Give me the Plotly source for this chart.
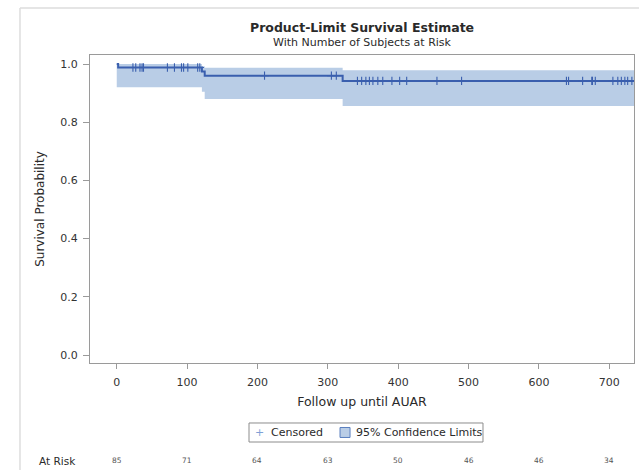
import plotly.graph_objects as go

# Kaplan-Meier step data
event_times = [0, 2, 121, 125, 321, 735]
survival = [1.0, 0.988, 0.974, 0.960, 0.942, 0.942]
ci_lower = [0.92, 0.92, 0.905, 0.88, 0.856, 0.856]
ci_upper = [1.0, 1.0, 0.992, 0.987, 0.979, 0.979]

# Censored observation times and their survival values
censor_times = [23, 27, 33, 36, 38, 72, 82, 92, 95, 101, 115, 118,
                210, 305, 312,
                342, 348, 354, 359, 364, 371, 378, 391, 402, 412, 455, 490,
                639, 642, 662, 675, 676, 680, 705, 712, 717, 722, 726, 732]
censor_surv = [0.988] * 12 + [0.960] * 3 + [0.942] * 24

# At-risk table
risk_times = [0, 100, 200, 300, 400, 500, 600, 700]
at_risk = [85, 71, 64, 63, 50, 46, 46, 34]

LINE = "#3a5fae"
FILL = "#b9cde6"
FONT = "DejaVu Sans, Verdana, sans-serif"
TXT = "#2a2a2a"

fig = go.Figure()

fig.add_trace(go.Scatter(
    x=event_times, y=ci_lower, mode="lines", line=dict(width=0, shape="hv"),
    showlegend=False, hoverinfo="skip"))
fig.add_trace(go.Scatter(
    x=event_times, y=ci_upper, mode="lines", line=dict(width=0, shape="hv"),
    fill="tonexty", fillcolor=FILL, showlegend=False, hoverinfo="skip"))
fig.add_trace(go.Scatter(
    x=event_times, y=survival, mode="lines",
    line=dict(color=LINE, width=2, shape="hv"), showlegend=False))
fig.add_trace(go.Scatter(
    x=censor_times, y=censor_surv, mode="markers", showlegend=False,
    marker=dict(symbol="cross-thin-open", size=6, color=LINE,
                line=dict(color=LINE, width=1.1))))

# Legend drawn manually (box, symbols, text)
LEG_Y = -0.2256
fig.add_shape(type="rect", xref="paper", yref="paper", x0=0.2923, x1=0.7224,
              y0=-0.2565, y1=-0.1948, line=dict(color="#8c8c8c", width=1),
              fillcolor="white")
fig.add_annotation(x=0.3116, y=LEG_Y, xref="paper", yref="paper", text="+",
                   showarrow=False, xanchor="center", yanchor="middle",
                   font=dict(size=11, color="#7f9fd6", family=FONT))
fig.add_annotation(x=0.329, y=LEG_Y, xref="paper", yref="paper", text="Censored",
                   showarrow=False, xanchor="left", yanchor="middle",
                   font=dict(size=11, color=TXT, family=FONT))
fig.add_shape(type="rect", xref="paper", yref="paper", x0=0.4596, x1=0.478,
              y0=LEG_Y - 0.0162, y1=LEG_Y + 0.0162,
              line=dict(color="#5a7fbf", width=1), fillcolor=FILL)
fig.add_annotation(x=0.4862, y=LEG_Y, xref="paper", yref="paper",
                   text="95% Confidence Limits", showarrow=False,
                   xanchor="left", yanchor="middle",
                   font=dict(size=11, color=TXT, family=FONT))

# At-risk annotations
for t, n in zip(risk_times, at_risk):
    fig.add_annotation(x=t, y=-0.318, xref="x", yref="paper", text=str(n),
                       showarrow=False, yanchor="middle",
                       font=dict(size=7.5, color="#555555", family=FONT))
fig.add_annotation(x=-0.06, y=-0.318, xref="paper", yref="paper", text="At Risk",
                   showarrow=False, xanchor="center", yanchor="middle",
                   font=dict(size=10.5, color=TXT, family=FONT))

fig.add_annotation(x=0.5, y=1.0909, xref="paper", yref="paper", yanchor="middle",
                   text="<b>Product-Limit Survival Estimate</b>", showarrow=False,
                   font=dict(size=12.5, color=TXT, family=FONT))
fig.add_annotation(x=0.5, y=1.039, xref="paper", yref="paper", yanchor="middle",
                   text="With Number of Subjects at Risk", showarrow=False,
                   font=dict(size=11, color=TXT, family=FONT))

# faint outer frame lines
fig.add_shape(type="line", xref="paper", yref="paper", x0=-0.1287, x1=1.02,
              y0=1.1526, y1=1.1526, line=dict(color="#dddddd", width=1.5))
fig.add_shape(type="line", xref="paper", yref="paper", x0=-0.1287, x1=-0.1287,
              y0=1.1526, y1=-0.36, line=dict(color="#dddddd", width=1.5))

fig.update_layout(
    width=639, height=470,
    margin=dict(l=90, r=5, t=55, b=107, autoexpand=False),
    paper_bgcolor="white", plot_bgcolor="white",
    font=dict(family=FONT, color=TXT),
    showlegend=False,
    xaxis=dict(range=[-38, 735], tickvals=risk_times, showgrid=False,
               zeroline=False, showline=True, linecolor="#9a9a9a", mirror=True,
               ticks="outside", tickcolor="#9a9a9a", ticklen=5,
               ticklabelstandoff=4,
               tickfont=dict(size=11, color="#333333"),
               title=dict(text="Follow up until AUAR", font=dict(size=12.5), standoff=9)),
    yaxis=dict(range=[-0.0275, 1.031], tickvals=[0, 0.2, 0.4, 0.6, 0.8, 1.0],
               ticktext=["0.0", "0.2", "0.4", "0.6", "0.8", "1.0"],
               showgrid=False, zeroline=False, showline=True, linecolor="#9a9a9a",
               mirror=True, ticks="outside", tickcolor="#9a9a9a", ticklen=6,
               ticklabelstandoff=3,
               tickfont=dict(size=11, color="#333333"),
               title=dict(text="Survival Probability", font=dict(size=12), standoff=13)),
)

fig.write_html("out.html", config={"displayModeBar": False},
               post_script="document.body.style.margin='0';document.body.style.overflow='hidden';")
